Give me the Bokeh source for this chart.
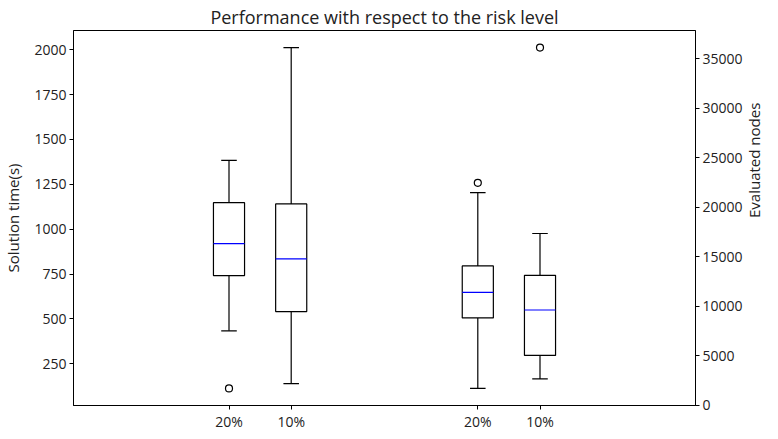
import math
from bokeh.plotting import figure
from bokeh.models import Range1d, LinearAxis, FixedTicker, ColumnDataSource
from bokeh.embed import file_html
from bokeh.resources import INLINE

# ---- data ----
labels = ["20%", "10%", "20%", "10%"]
positions = [1, 2, 5, 6]

# Solution time (left axis) – first two boxes
time_pos = [1, 2]
time_q1 = [742, 541]
time_med = [920, 835]
time_q3 = [1148, 1141]
time_lo = [434, 140]
time_hi = [1384, 2012]
time_out_pos = [1]
time_out = [113]

# Evaluated nodes (right axis) – last two boxes
nodes_pos = [5, 6]
nodes_q1 = [8820, 5030]
nodes_med = [11400, 9615]
nodes_q3 = [14070, 13120]
nodes_lo = [1695, 2655]
nodes_hi = [21465, 17340]
nodes_out_pos = [5, 6]
nodes_out = [22455, 36120]

left_ticks = [250, 500, 750, 1000, 1250, 1500, 1750, 2000]
right_ticks = [0, 5000, 10000, 15000, 20000, 25000, 30000, 35000]

BOX_W = 0.5
CAP_W = 0.25
FONT = "Open Sans"


def padded(vals, frac=0.05):
    lo, hi = min(vals), max(vals)
    d = (hi - lo) * frac
    return lo - d, hi + d


t0, t1 = padded(time_lo + time_hi + time_out)
n0, n1 = padded(nodes_lo + nodes_hi + nodes_out)

p = figure(frame_width=622, frame_height=375, output_backend="svg", toolbar_location=None,
           x_range=Range1d(positions[0] - 2.5, positions[-1] + 2.5),
           y_range=Range1d(t0, t1),
           min_border_left=70, min_border_right=70, min_border_top=25, min_border_bottom=23,
           title="Performance with respect to the risk level")
p.extra_y_ranges = {"nodes": Range1d(n0, n1)}

p.xgrid.visible = False
p.ygrid.visible = False
p.outline_line_color = "black"
p.outline_line_width = 1
p.background_fill_color = "white"
p.border_fill_color = "white"

p.title.text_font = FONT
p.title.text_font_size = "18px"
p.title.text_font_style = "normal"
p.title.text_color = "#222222"
p.title.align = "center"
p.title.standoff = 4


def draw(pos, q1, med, q3, lo, hi, out_pos, out, rng):
    kw = {} if rng is None else {"y_range_name": rng}
    src = ColumnDataSource(dict(
        x=pos, l=[x - BOX_W / 2 for x in pos], r=[x + BOX_W / 2 for x in pos],
        cl=[x - CAP_W / 2 for x in pos], cr=[x + CAP_W / 2 for x in pos],
        q1=q1, med=med, q3=q3, lo=lo, hi=hi))
    p.segment(x0="x", y0="q3", x1="x", y1="hi", source=src, line_color="black", line_width=1.2, **kw)
    p.segment(x0="x", y0="q1", x1="x", y1="lo", source=src, line_color="black", line_width=1.2, **kw)
    p.segment(x0="cl", y0="hi", x1="cr", y1="hi", source=src, line_color="black", line_width=1.2, **kw)
    p.segment(x0="cl", y0="lo", x1="cr", y1="lo", source=src, line_color="black", line_width=1.2, **kw)
    p.quad(left="l", right="r", bottom="q1", top="q3", source=src, fill_color=None,
           line_color="black", line_width=1.2, **kw)
    p.segment(x0="l", y0="med", x1="r", y1="med", source=src, line_color="#0000ff", line_width=1.2, **kw)
    p.scatter(x=out_pos, y=out, marker="circle", size=7, fill_color=None,
              line_color="black", line_width=1.2, **kw)


draw(time_pos, time_q1, time_med, time_q3, time_lo, time_hi, time_out_pos, time_out, None)
draw(nodes_pos, nodes_q1, nodes_med, nodes_q3, nodes_lo, nodes_hi, nodes_out_pos, nodes_out, "nodes")

raxis = LinearAxis(y_range_name="nodes", axis_label="Evaluated nodes")
p.add_layout(raxis, "right")

p.xaxis.ticker = FixedTicker(ticks=positions)
p.xaxis.major_label_overrides = {pos: lab for pos, lab in zip(positions, labels)}
p.xaxis.axis_label = None
p.yaxis[0].ticker = FixedTicker(ticks=left_ticks)
p.yaxis[0].axis_label = "Solution time(s)"
raxis.ticker = FixedTicker(ticks=right_ticks)

for ax in p.xaxis + p.yaxis:
    ax.major_tick_in = 0
    ax.major_tick_out = 4
    ax.minor_tick_line_color = None
    ax.major_tick_line_color = "black"
    ax.axis_line_color = "black"
    ax.major_label_text_font = FONT
    ax.major_label_text_font_size = "14px"
    ax.major_label_text_color = "#222222"
    ax.major_label_standoff = 3
    ax.axis_label_text_font = FONT
    ax.axis_label_text_font_size = "15px"
    ax.axis_label_text_font_style = "normal"
    ax.axis_label_text_color = "#222222"
    ax.axis_label_standoff = 5

p.xaxis.axis_label_standoff = 0
p.xaxis.major_label_standoff = 2
p.yaxis[0].axis_label_standoff = 8
raxis.axis_label_standoff = 8

try:
    raxis.axis_label_orientation = math.pi / 2
except Exception:
    pass

open("out.html", "w").write(file_html(p, INLINE))
